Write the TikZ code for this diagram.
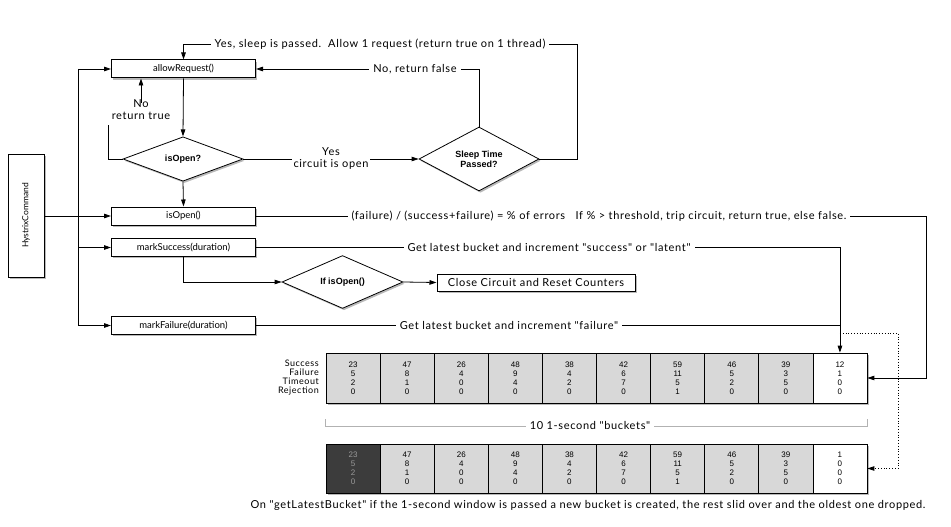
\documentclass[tikz,border=0pt]{standalone}
\usepackage{fontspec}
\setmainfont{Liberation Sans}
\newfontfamily\gill[LetterSpace=6]{Lato}
\newfontfamily\gillb{Lato}
\usetikzlibrary{arrows.meta,shapes.geometric,shadows}
\definecolor{cellgray}{HTML}{D8D8D8}
\definecolor{darkcell}{HTML}{3C3C3C}
\begin{document}
\begin{tikzpicture}[x=1pt,y=-1pt,
  shad/.style={drop shadow={shadow xshift=1.5pt,shadow yshift=-1.8pt,opacity=0.55}},
  box/.style={draw,line width=1pt,fill=white,minimum width=144pt,minimum height=18pt,inner sep=0pt,
    font=\gillb\fontsize{9.5}{10}\selectfont,shad},
  dia/.style={diamond,draw,line width=0.8pt,fill=white,minimum width=120pt,minimum height=44pt,
    inner sep=0pt,align=center,font=\bfseries\fontsize{9}{10}\selectfont,shad},
  arr/.style={-{Triangle[length=7pt,width=4.5pt]},line width=0.8pt},
  ln/.style={line width=0.8pt},
  lbl/.style={fill=white,inner sep=4pt,font=\gill\fontsize{11}{12}\selectfont},
  cell/.style={draw,line width=0.7pt,minimum width=54.1pt,minimum height=50pt,inner sep=0pt,
    align=center,font=\fontsize{8}{9}\selectfont},
]
\useasboundingbox[fill=white] (0,0) rectangle (951,527);

% main boxes
\node[box] (arq) at (183.5,69) {allowRequest()};
\node[dia] (d1) at (183,159) {isOpen?};
\node[dia] (d2) at (479,159) {Sleep Time\\Passed?};
\node[box] (iso) at (183.5,216) {isOpen()};
\node[box] (ms) at (183.5,247.5) {markSuccess(duration)};
\node[box] (mf) at (183.5,325.5) {markFailure(duration)};
\node[dia,minimum width=121pt] (d3) at (342.5,282) {If isOpen()};
\node[box,minimum width=198pt,minimum height=17pt,font=\gill\fontsize{11}{12}\selectfont] (cc) at (536,282.5) {Close Circuit and Reset Counters};
\node[draw,line width=1pt,fill=white,minimum width=36pt,minimum height=123pt,inner sep=0pt,shad] (hc) at (26,215.5)
  {\rotatebox{90}{\gillb\fontsize{8.5}{9}\selectfont HystrixCommand}};

% upper flow
\draw[arr] (arq.south) -- (d1.north);
\draw[arr] (d1.south) -- (iso.north);
\coordinate (nr) at (108,125);
\draw[ln] (d1.west) -| (nr);
\node[font=\gill\fontsize{11}{12}\selectfont,align=center,inner sep=0pt] (nrt) at (141,110) {No\\return true};
\draw[arr] ([yshift=-3pt]nrt.north) -- (nrt.north |- arq.south);
\draw[arr] (d1.east) -- node[lbl,align=center,fill=white,inner sep=2pt] {Yes\\circuit is open} (d2.west);
\draw[arr] (d2.north) |- (arq.east);
\node[lbl] at (415,69) {No, return false};
\coordinate (tp) at (577,44);
\draw[arr] (d2.east) -| (tp) -| (arq.north);
\node[lbl] at (380,44) {Yes, sleep is passed.\ \ Allow 1 request (return true on 1 thread)};

% command bus
\coordinate (b1) at (78,69);
\coordinate (b2) at (78,325.5);
\draw[ln] (b1) -- (b2);
\draw[arr] (b1) -- (arq.west);
\draw[arr] (hc.east |- iso.west) -- (iso.west);
\draw[arr] (ms.west -| b1) -- (ms.west);
\draw[arr] (b2) -- (mf.west);

\draw[arr] (ms.south) |- (d3.west);
\draw[arr] (d3.east) -- (cc.west);

% buckets row 1
\node[draw,line width=0.7pt,fill=white,minimum width=541pt,minimum height=50pt,shad] (row1) at (596.5,378) {};
\foreach \a/\b/\c/\d [count=\i] in {23/5/2/0,47/8/1/0,26/4/0/0,48/9/4/0,38/4/2/0,42/6/7/0,59/11/5/1,46/5/2/0,39/3/5/0}
  \node[cell,fill=cellgray] (r1c\i) at ({326+54.1*(\i-0.5)},378) {\a\\\b\\\c\\\d};
\node[cell,fill=white] (r1c10) at ({326+54.1*9.5},378) {12\\1\\0\\0};
\node[anchor=east,align=right,inner sep=0pt,font=\gill\fontsize{9}{9}\selectfont] (rl) at (319,378) {Success\\Failure\\Timeout\\Rejection};

% buckets row 2
\node[draw,line width=0.7pt,fill=white,minimum width=541pt,minimum height=49pt,shad] (row2) at (596.5,468.5) {};
\node[cell,minimum height=49pt,fill=darkcell,text=gray!80] (r2c1) at ({326+54.1*0.5},468.5) {23\\5\\2\\0};
\foreach \a/\b/\c/\d [count=\i from 2] in {47/8/1/0,26/4/0/0,48/9/4/0,38/4/2/0,42/6/7/0,59/11/5/1,46/5/2/0,39/3/5/0,45/6/2/0}
  \node[cell,minimum height=49pt,fill=cellgray] (r2c\i) at ({326+54.1*(\i-0.5)},468.5) {\a\\\b\\\c\\\d};
\node[cell,minimum height=49pt,fill=white] (r2c10) at ({326+54.1*9.5},468.5) {1\\0\\0\\0};

% connectors to buckets
\coordinate (c1) at (926,216);
\draw[arr] (iso.east) -- (c1) |- (r1c10.east);
\node[lbl] at (599,216) {(failure) / (success+failure) = \% of errors\ \ \ If \% > threshold, trip circuit, return true, else false.};
\draw[arr] (ms.east) -| (r1c10.north);
\node[lbl] at (549,247.5) {Get latest bucket and increment "success" or "latent"};
\draw[ln] (mf.east) -- (mf.east -| r1c10.north);
\node[lbl] at (509,325.5) {Get latest bucket and increment "failure"};
\coordinate (dt) at (898,333);
\draw[arr,dotted] (r1c10.north |- dt) -- (dt) |- (r2c10.east);

% bracket
\draw[gray!60,line width=0.7pt] (r1c1.west |- 0,419) -- (r1c1.west |- 0,426) -- (r1c10.east |- 0,426) -- (r1c10.east |- 0,419);
\node[lbl] at (590,425) {10 1-second "buckets"};

\node[font=\gill\fontsize{11}{12}\selectfont,inner sep=0pt] (bt) at (588,505) {On "getLatestBucket" if the 1-second window is passed a new bucket is created, the rest slid over and the oldest one dropped.};
\end{tikzpicture}
\end{document}
